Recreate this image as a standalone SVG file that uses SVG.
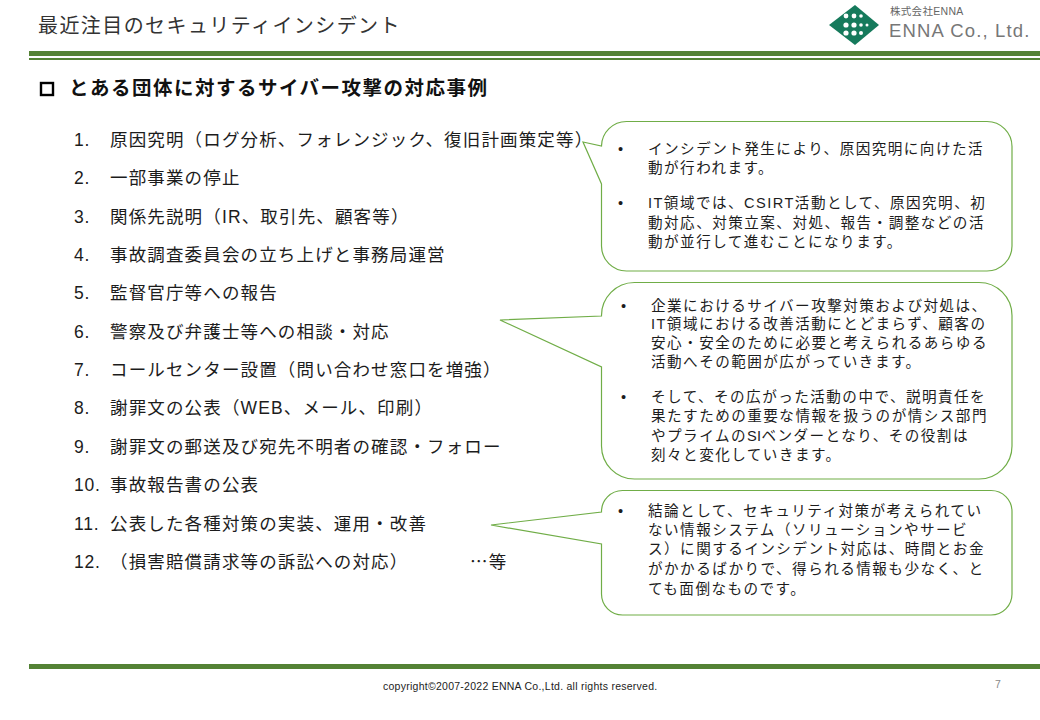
<svg xmlns="http://www.w3.org/2000/svg" width="1040" height="720" viewBox="0 0 1040 720">
<style>
text{font-family:"Liberation Sans","Noto Sans CJK JP",sans-serif;fill:#1c1c1c}
.t{font-size:20px;letter-spacing:1.42px;fill:#333}
.h{font-size:19.5px;font-weight:bold;letter-spacing:1.5px;fill:#111}
.l{font-size:17.5px;letter-spacing:1.15px}
.c{font-size:14.6px;letter-spacing:1.45px}
.call{fill:#fff;stroke:#70ad47;stroke-width:1.2}
.bar{fill:#548235}
.n{letter-spacing:.77px}
.s{letter-spacing:.3px}
</style>
<rect width="1040" height="720" fill="#fff"/>
<g id="header">
<text class="t" x="38" y="33">最近注目のセキュリティインシデント</text>
<rect class="bar" x="29" y="51" width="1011" height="5"/>
<rect class="bar" x="29" y="58" width="1011" height="2"/>
</g>
<g id="logo">
<path d="M855 5 L879 25 L855 45 L829 25 Z" fill="#167a5c"/>
<g fill="#fff"><circle cx="846" cy="16" r="2.4"/><circle cx="854" cy="16" r="2.4"/><circle cx="861" cy="16" r="1.8"/><circle cx="846" cy="25" r="2.6"/><circle cx="854" cy="25" r="2.6"/><circle cx="861" cy="25" r="1.8"/><circle cx="867" cy="25" r="1.5"/><circle cx="846" cy="33" r="2.6"/><circle cx="854" cy="33" r="2.6"/><circle cx="861" cy="33" r="2"/></g>
<text x="890" y="15" font-size="10.5" letter-spacing=".3" style="fill:#666">株式会社ENNA</text>
<text x="889" y="37" font-size="18.5" letter-spacing="1.15" style="fill:#777">ENNA Co., Ltd.</text>
</g>
<g id="heading">
<rect x="41" y="83" width="12" height="12" fill="none" stroke="#000" stroke-width="2.4"/>
<text class="h" x="69" y="95">とある団体に対するサイバー攻撃の対応事例</text>
</g>
<g id="list">
<text class="l n" x="74" y="146">1.</text><text class="l" x="110" y="146">原因究明（ログ分析、フォレンジック、復旧計画策定等）</text>
<text class="l n" x="74" y="184">2.</text><text class="l" x="110" y="184">一部事業の停止</text>
<text class="l n" x="74" y="223">3.</text><text class="l" x="110" y="223">関係先説明（IR、取引先、顧客等）</text>
<text class="l n" x="74" y="261">4.</text><text class="l" x="110" y="261">事故調査委員会の立ち上げと事務局運営</text>
<text class="l n" x="74" y="299">5.</text><text class="l" x="110" y="299">監督官庁等への報告</text>
<text class="l n" x="74" y="338">6.</text><text class="l" x="110" y="338">警察及び弁護士等への相談・対応</text>
<text class="l n" x="74" y="376">7.</text><text class="l" x="110" y="376">コールセンター設置（問い合わせ窓口を増強）</text>
<text class="l n" x="74" y="414">8.</text><text class="l" x="110" y="414">謝罪文の公表（WEB、メール、印刷）</text>
<text class="l n" x="74" y="453">9.</text><text class="l" x="110" y="453">謝罪文の郵送及び宛先不明者の確認・フォロー</text>
<text class="l n" x="74" y="491">10.</text><text class="l" x="110" y="491">事故報告書の公表</text>
<text class="l n" x="74" y="530">11.</text><text class="l" x="110" y="530">公表した各種対策の実装、運用・改善</text>
<text class="l n" x="74" y="568">12.</text><text class="l" x="110" y="568">（損害賠償請求等の訴訟への対応）</text>
<text class="l" x="470" y="568" style="font-family:'Noto Sans CJK JP',sans-serif">…等</text>
</g>
<g id="callout1">
<path class="call" d="M583 142 L601.5 146 A25 25 0 0 1 626.5 121.5 H987 A25 25 0 0 1 1012 146.5 V246 A25 25 0 0 1 987 271 H626.5 A25 25 0 0 1 601.5 246 V184 Z"/>
<text class="c" x="618" y="154">•</text><text class="c" x="648" y="154">インシデント発生により、原因究明に向けた活</text>
<text class="c" x="648" y="173">動が行われます。</text>
<text class="c" x="618" y="208">•</text><text class="c" x="648" y="208">IT領域では、CSIRT活動として、原因究明、初</text>
<text class="c" x="648" y="228">動対応、対策立案、対処、報告・調整などの活</text>
<text class="c" x="648" y="247">動が並行して進むことになります。</text>
</g>
<g id="callout2">
<path class="call" d="M500 320 L601.5 316 A33 33 0 0 1 634.5 282.5 H979 A33 33 0 0 1 1012 315.5 V446 A33 33 0 0 1 979 479 H634.5 A33 33 0 0 1 601.5 446 V367 Z"/>
<text class="c" x="621" y="311">•</text><text class="c" x="651" y="311">企業におけるサイバー攻撃対策および対処は、</text>
<text class="c" x="651" y="329">IT領域における改善活動にとどまらず、顧客の</text>
<text class="c" x="651" y="348">安心・安全のために必要と考えられるあらゆる</text>
<text class="c" x="651" y="367">活動へその範囲が広がっていきます。</text>
<text class="c" x="621" y="402">•</text><text class="c" x="651" y="402">そして、その広がった活動の中で、説明責任を</text>
<text class="c" x="651" y="421">果たすための重要な情報を扱うのが情シス部門</text>
<text class="c" x="651" y="441">やプライムの<tspan class="s">SI</tspan>ベンダーとなり、その役割は</text>
<text class="c" x="651" y="460">刻々と変化していきます。</text>
</g>
<g id="callout3">
<path class="call" d="M491 525 L601.5 512 A21 21 0 0 1 622.5 490.5 H991 A21 21 0 0 1 1012 511.5 V594 A21 21 0 0 1 991 615 H622.5 A21 21 0 0 1 601.5 594 V544 Z"/>
<text class="c" x="618" y="516">•</text><text class="c" x="648" y="516">結論として、セキュリティ対策が考えられてい</text>
<text class="c" x="648" y="535">ない情報システム（ソリューションやサービ</text>
<text class="c" x="648" y="554">ス）に関するインシデント対応は、時間とお金</text>
<text class="c" x="648" y="574">がかかるばかりで、得られる情報も少なく、と</text>
<text class="c" x="648" y="594">ても面倒なものです。</text>
</g>
<g id="footer">
<rect class="bar" x="29" y="664" width="1011" height="5"/>
<text x="383" y="690" font-size="10.5" letter-spacing=".26">copyright©2007-2022 ENNA Co.,Ltd. all rights reserved.</text>
<text x="995" y="688" font-size="10.5" style="fill:#888">7</text>
</g>
</svg>
